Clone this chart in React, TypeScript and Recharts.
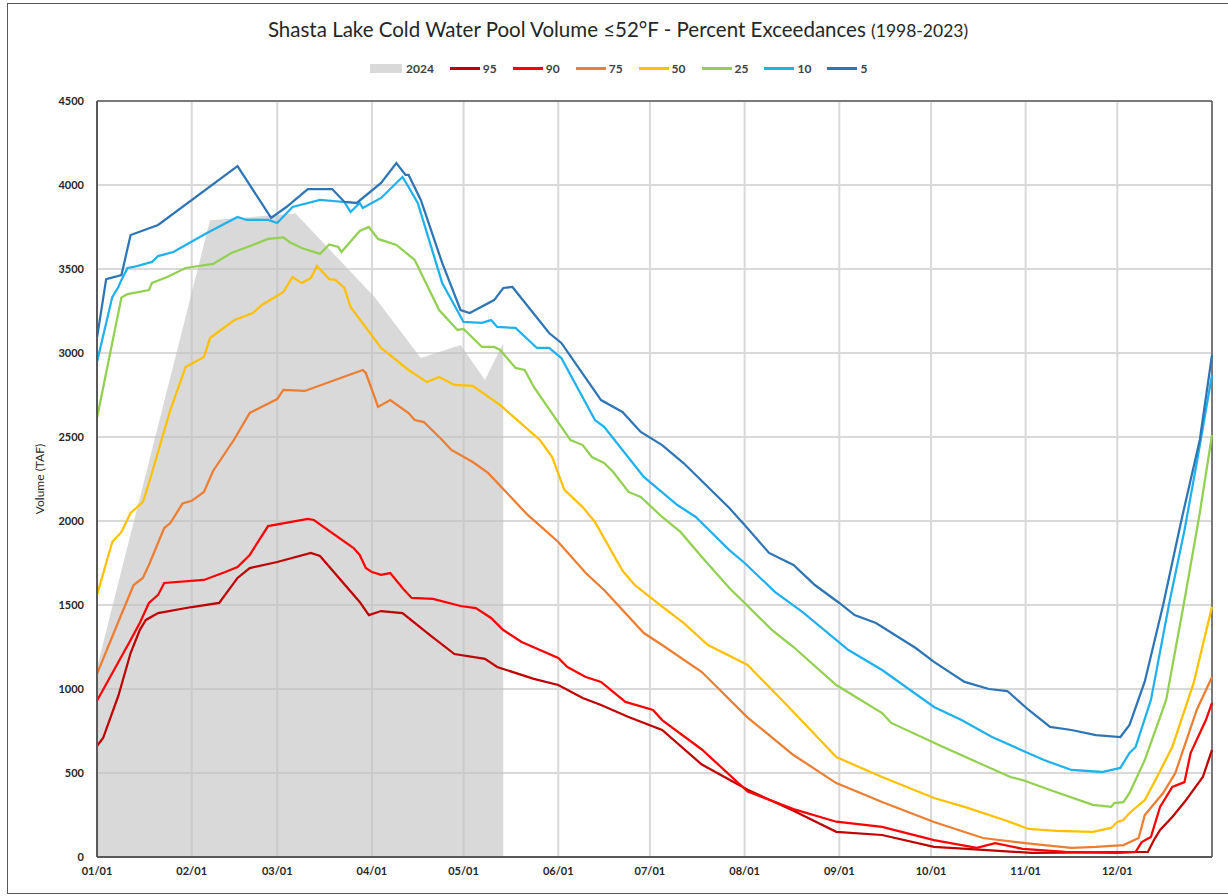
import React from "react";
import {
  ComposedChart,
  Line,
  Area,
  XAxis,
  YAxis,
  CartesianGrid,
  ReferenceLine,
} from "recharts";

// day-of-year for the first of each month
const monthDays = [0, 31, 59, 90, 120, 151, 181, 212, 243, 273, 304, 334];
const monthLabels = [
  "01/01", "02/01", "03/01", "04/01", "05/01", "06/01",
  "07/01", "08/01", "09/01", "10/01", "11/01", "12/01",
];
const volumeTicks = [0, 500, 1000, 1500, 2000, 2500, 3000, 3500, 4000, 4500];

// 2024 observed volume (TAF)
const wy2024Days = [0, 37, 65, 91, 106, 119, 127, 133];
const wy2024Vals = [1130, 3790, 3830, 3330, 2970, 3048, 2840, 3060];

// exceedance curves (TAF)
const p95Days = [0, 2, 7, 11, 14, 16, 20, 31, 40, 46, 50, 59, 70, 73, 86, 89, 93, 100, 104, 109, 117, 127, 131, 143, 151, 159, 165, 174, 185, 198, 213, 228, 242, 257, 274, 290, 306, 344, 346, 348, 352, 356, 362, 365];
const p95Vals = [661, 708, 960, 1214, 1351, 1411, 1452, 1488, 1512, 1661, 1720, 1756, 1810, 1792, 1518, 1440, 1464, 1452, 1393, 1321, 1208, 1179, 1131, 1060, 1024, 946, 905, 833, 756, 550, 400, 275, 150, 131, 60, 42, 24, 30, 101, 161, 238, 327, 476, 637];

const p90Days = [0, 11, 14, 17, 20, 22, 35, 42, 46, 50, 56, 69, 71, 84, 86, 88, 90, 93, 96, 100, 103, 110, 119, 124, 129, 133, 139, 151, 154, 160, 165, 173, 182, 185, 198, 213, 228, 242, 257, 274, 288, 294, 303, 317, 334, 340, 342, 345, 348, 352, 356, 358, 363, 365];
const p90Vals = [930, 1292, 1393, 1512, 1560, 1631, 1649, 1696, 1726, 1798, 1970, 2012, 2006, 1839, 1798, 1720, 1696, 1679, 1690, 1601, 1542, 1536, 1494, 1482, 1423, 1351, 1280, 1185, 1131, 1071, 1042, 923, 875, 815, 640, 390, 285, 210, 179, 101, 54, 83, 48, 30, 24, 30, 89, 119, 298, 417, 446, 619, 815, 917];

const p75Days = [0, 8, 12, 15, 17, 22, 24, 28, 31, 35, 38, 45, 50, 59, 61, 68, 87, 88, 91, 92, 96, 102, 104, 107, 113, 116, 123, 128, 141, 151, 160, 166, 179, 185, 198, 213, 228, 242, 257, 274, 290, 301, 310, 319, 327, 336, 341, 343, 349, 353, 360, 365];
const p75Vals = [1090, 1445, 1619, 1661, 1738, 1958, 1988, 2104, 2120, 2173, 2298, 2488, 2643, 2726, 2780, 2774, 2899, 2881, 2732, 2679, 2720, 2643, 2601, 2589, 2482, 2423, 2351, 2286, 2036, 1875, 1690, 1589, 1333, 1262, 1101, 830, 607, 440, 327, 208, 113, 89, 71, 54, 60, 71, 113, 250, 381, 500, 875, 1071];

const p50Days = [0, 5, 8, 11, 15, 17, 24, 29, 35, 37, 45, 51, 54, 61, 64, 67, 70, 72, 76, 78, 81, 83, 93, 102, 108, 112, 117, 123, 132, 145, 149, 153, 159, 163, 172, 176, 185, 192, 200, 213, 228, 242, 257, 274, 284, 297, 305, 314, 326, 332, 334, 336, 338, 343, 347, 352, 359, 365];
const p50Vals = [1560, 1875, 1935, 2048, 2113, 2226, 2660, 2917, 2976, 3089, 3196, 3238, 3286, 3363, 3452, 3417, 3446, 3518, 3440, 3435, 3387, 3274, 3030, 2899, 2827, 2857, 2810, 2804, 2690, 2482, 2381, 2185, 2083, 1994, 1705, 1619, 1490, 1393, 1262, 1143, 863, 595, 476, 351, 298, 220, 167, 155, 149, 173, 208, 220, 262, 339, 476, 655, 1036, 1490];

const p25Days = [0, 8, 10, 17, 18, 23, 29, 38, 44, 51, 56, 61, 63, 67, 73, 76, 79, 80, 86, 89, 92, 98, 104, 112, 118, 120, 126, 130, 132, 137, 140, 143, 152, 155, 159, 162, 166, 169, 174, 178, 185, 191, 198, 207, 212, 221, 228, 242, 257, 260, 277, 288, 299, 303, 312, 326, 332, 333, 336, 338, 343, 350, 356, 361, 365];
const p25Vals = [2613, 3330, 3351, 3375, 3417, 3452, 3506, 3530, 3595, 3643, 3679, 3688, 3661, 3625, 3590, 3646, 3631, 3601, 3726, 3750, 3679, 3643, 3554, 3256, 3137, 3143, 3036, 3036, 3018, 2911, 2899, 2798, 2560, 2482, 2452, 2381, 2345, 2292, 2173, 2143, 2024, 1935, 1786, 1601, 1512, 1351, 1250, 1024, 857, 798, 655, 565, 476, 458, 399, 310, 298, 321, 327, 381, 577, 935, 1530, 2048, 2512];

const p10Days = [0, 5, 7, 8, 10, 12, 18, 20, 25, 36, 46, 49, 56, 59, 64, 73, 81, 83, 86, 87, 93, 100, 102, 105, 113, 120, 126, 129, 131, 137, 144, 148, 152, 163, 166, 179, 190, 196, 207, 212, 222, 231, 246, 257, 274, 283, 293, 304, 310, 319, 329, 335, 338, 340, 345, 351, 356, 360, 365];
const p10Vals = [2946, 3333, 3393, 3435, 3506, 3512, 3542, 3577, 3601, 3714, 3810, 3792, 3792, 3774, 3869, 3911, 3899, 3839, 3893, 3863, 3923, 4048, 3988, 3893, 3417, 3185, 3179, 3196, 3155, 3149, 3030, 3030, 2970, 2601, 2560, 2262, 2095, 2024, 1827, 1750, 1577, 1458, 1232, 1113, 893, 815, 714, 625, 577, 518, 506, 530, 619, 655, 934, 1510, 1946, 2345, 2869];

const p5Days = [0, 3, 8, 11, 20, 46, 57, 62, 69, 77, 81, 85, 93, 98, 101, 102, 106, 113, 119, 122, 130, 133, 136, 148, 152, 165, 172, 178, 185, 192, 207, 212, 220, 228, 235, 243, 248, 255, 268, 274, 284, 292, 298, 305, 312, 319, 327, 335, 338, 343, 349, 355, 361, 365];
const p5Vals = [3090, 3440, 3464, 3702, 3762, 4113, 3804, 3869, 3976, 3976, 3899, 3893, 4012, 4131, 4060, 4060, 3911, 3536, 3256, 3238, 3315, 3387, 3393, 3119, 3060, 2720, 2649, 2530, 2452, 2345, 2077, 1976, 1810, 1738, 1619, 1512, 1440, 1393, 1244, 1161, 1042, 1000, 988, 875, 774, 756, 726, 714, 786, 1045, 1500, 2006, 2482, 2988];

const toPoints = (days: number[], vals: number[]) =>
  days.map((day, i) => ({ day, v: vals[i] }));

const series = [
  { name: "95", color: "#c00000", data: toPoints(p95Days, p95Vals) },
  { name: "90", color: "#ff0000", data: toPoints(p90Days, p90Vals) },
  { name: "75", color: "#ed7d31", data: toPoints(p75Days, p75Vals) },
  { name: "50", color: "#ffc000", data: toPoints(p50Days, p50Vals) },
  { name: "25", color: "#92d050", data: toPoints(p25Days, p25Vals) },
  { name: "10", color: "#1fb0ee", data: toPoints(p10Days, p10Vals) },
  { name: "5", color: "#2e75b6", data: toPoints(p5Days, p5Vals) },
];

const FONT = "Lato, 'Open Sans', sans-serif";
const tickStyle = { fontFamily: FONT, fontSize: 11, fontWeight: 700, fill: "#262626" };

function ChartLegend() {
  return (
    <div
      style={{
        position: "absolute",
        left: 370,
        top: 61,
        display: "flex",
        alignItems: "center",
        fontFamily: FONT,
        fontSize: 12,
        fontWeight: 700,
        color: "#404040",
      }}
    >
      <span style={{ width: 32, height: 9, background: "#d9d9d9", marginRight: 4 }} />
      <span style={{ marginRight: 16 }}>2024</span>
      {series.map((s) => (
        <React.Fragment key={s.name}>
          <span style={{ width: 30, height: 3, background: s.color, marginRight: 3 }} />
          <span style={{ marginRight: 16 }}>{s.name}</span>
        </React.Fragment>
      ))}
    </div>
  );
}

const VolumeLabel = (props: any) => {
  const vb = props.viewBox || { x: 0, y: 0, width: 0, height: 0 };
  const cx = vb.x + 2;
  const cy = vb.y + vb.height / 2;
  return (
    <text
      x={cx}
      y={cy}
      transform={`rotate(-90 ${cx} ${cy})`}
      textAnchor="middle"
      dominantBaseline="central"
      style={{ fontFamily: FONT, fontSize: 12, fill: "#262626" }}
    >
      Volume (TAF)
    </text>
  );
};

export default function App() {
  return (
    <div
      style={{
        position: "absolute",
        left: 0,
        top: 0,
        width: 1228,
        height: 896,
        background: "#fff",
        overflow: "hidden",
      }}
    >
      <div
        style={{
          position: "absolute",
          left: 7,
          top: 3,
          width: 1230,
          height: 891,
          border: "1px solid #595959",
          boxSizing: "border-box",
        }}
      />
      <div
        style={{
          position: "absolute",
          top: 17,
          left: 0,
          width: 1236,
          textAlign: "center",
          fontFamily: FONT,
          fontSize: 20.5,
          color: "#262626",
        }}
      >
        Shasta Lake Cold Water Pool Volume ≤52°F - Percent Exceedances{" "}
        <span style={{ fontSize: 17.5 }}>(1998-2023)</span>
      </div>
      <ChartLegend />
      <div style={{ position: "absolute", left: 0, top: 0 }}>
        <ComposedChart
          width={1228}
          height={896}
          margin={{ top: 101, right: 16, bottom: 9, left: 37 }}
        >
          <CartesianGrid stroke="#d9d9d9" strokeWidth={2} />
          <XAxis
            type="number"
            dataKey="day"
            domain={[0, 365]}
            ticks={monthDays}
            tickFormatter={(d: number) => monthLabels[monthDays.indexOf(d)] ?? ""}
            tick={tickStyle}
            tickLine={false}
            tickMargin={4}
            axisLine={{ stroke: "#595959", strokeWidth: 2 }}
            allowDuplicatedCategory={false}
            height={30}
          />
          <YAxis
            type="number"
            domain={[0, 4500]}
            ticks={volumeTicks}
            tick={tickStyle}
            tickLine={false}
            tickMargin={7}
            axisLine={{ stroke: "#595959", strokeWidth: 2 }}
            width={60}
            label={<VolumeLabel />}
          />
          <ReferenceLine y={4500} stroke="#595959" strokeWidth={1.5} />
          <ReferenceLine x={365} stroke="#595959" strokeWidth={1.5} />
          <Area
            data={toPoints(wy2024Days, wy2024Vals)}
            dataKey="v"
            type="linear"
            stroke="none"
            fill="#bfbfbf"
            fillOpacity={0.6}
            isAnimationActive={false}
          />
          {series.map((s) => (
            <Line
              key={s.name}
              data={s.data}
              dataKey="v"
              name={s.name}
              type="linear"
              stroke={s.color}
              strokeWidth={2.25}
              dot={false}
              activeDot={false}
              isAnimationActive={false}
            />
          ))}
        </ComposedChart>
      </div>
    </div>
  );
}
